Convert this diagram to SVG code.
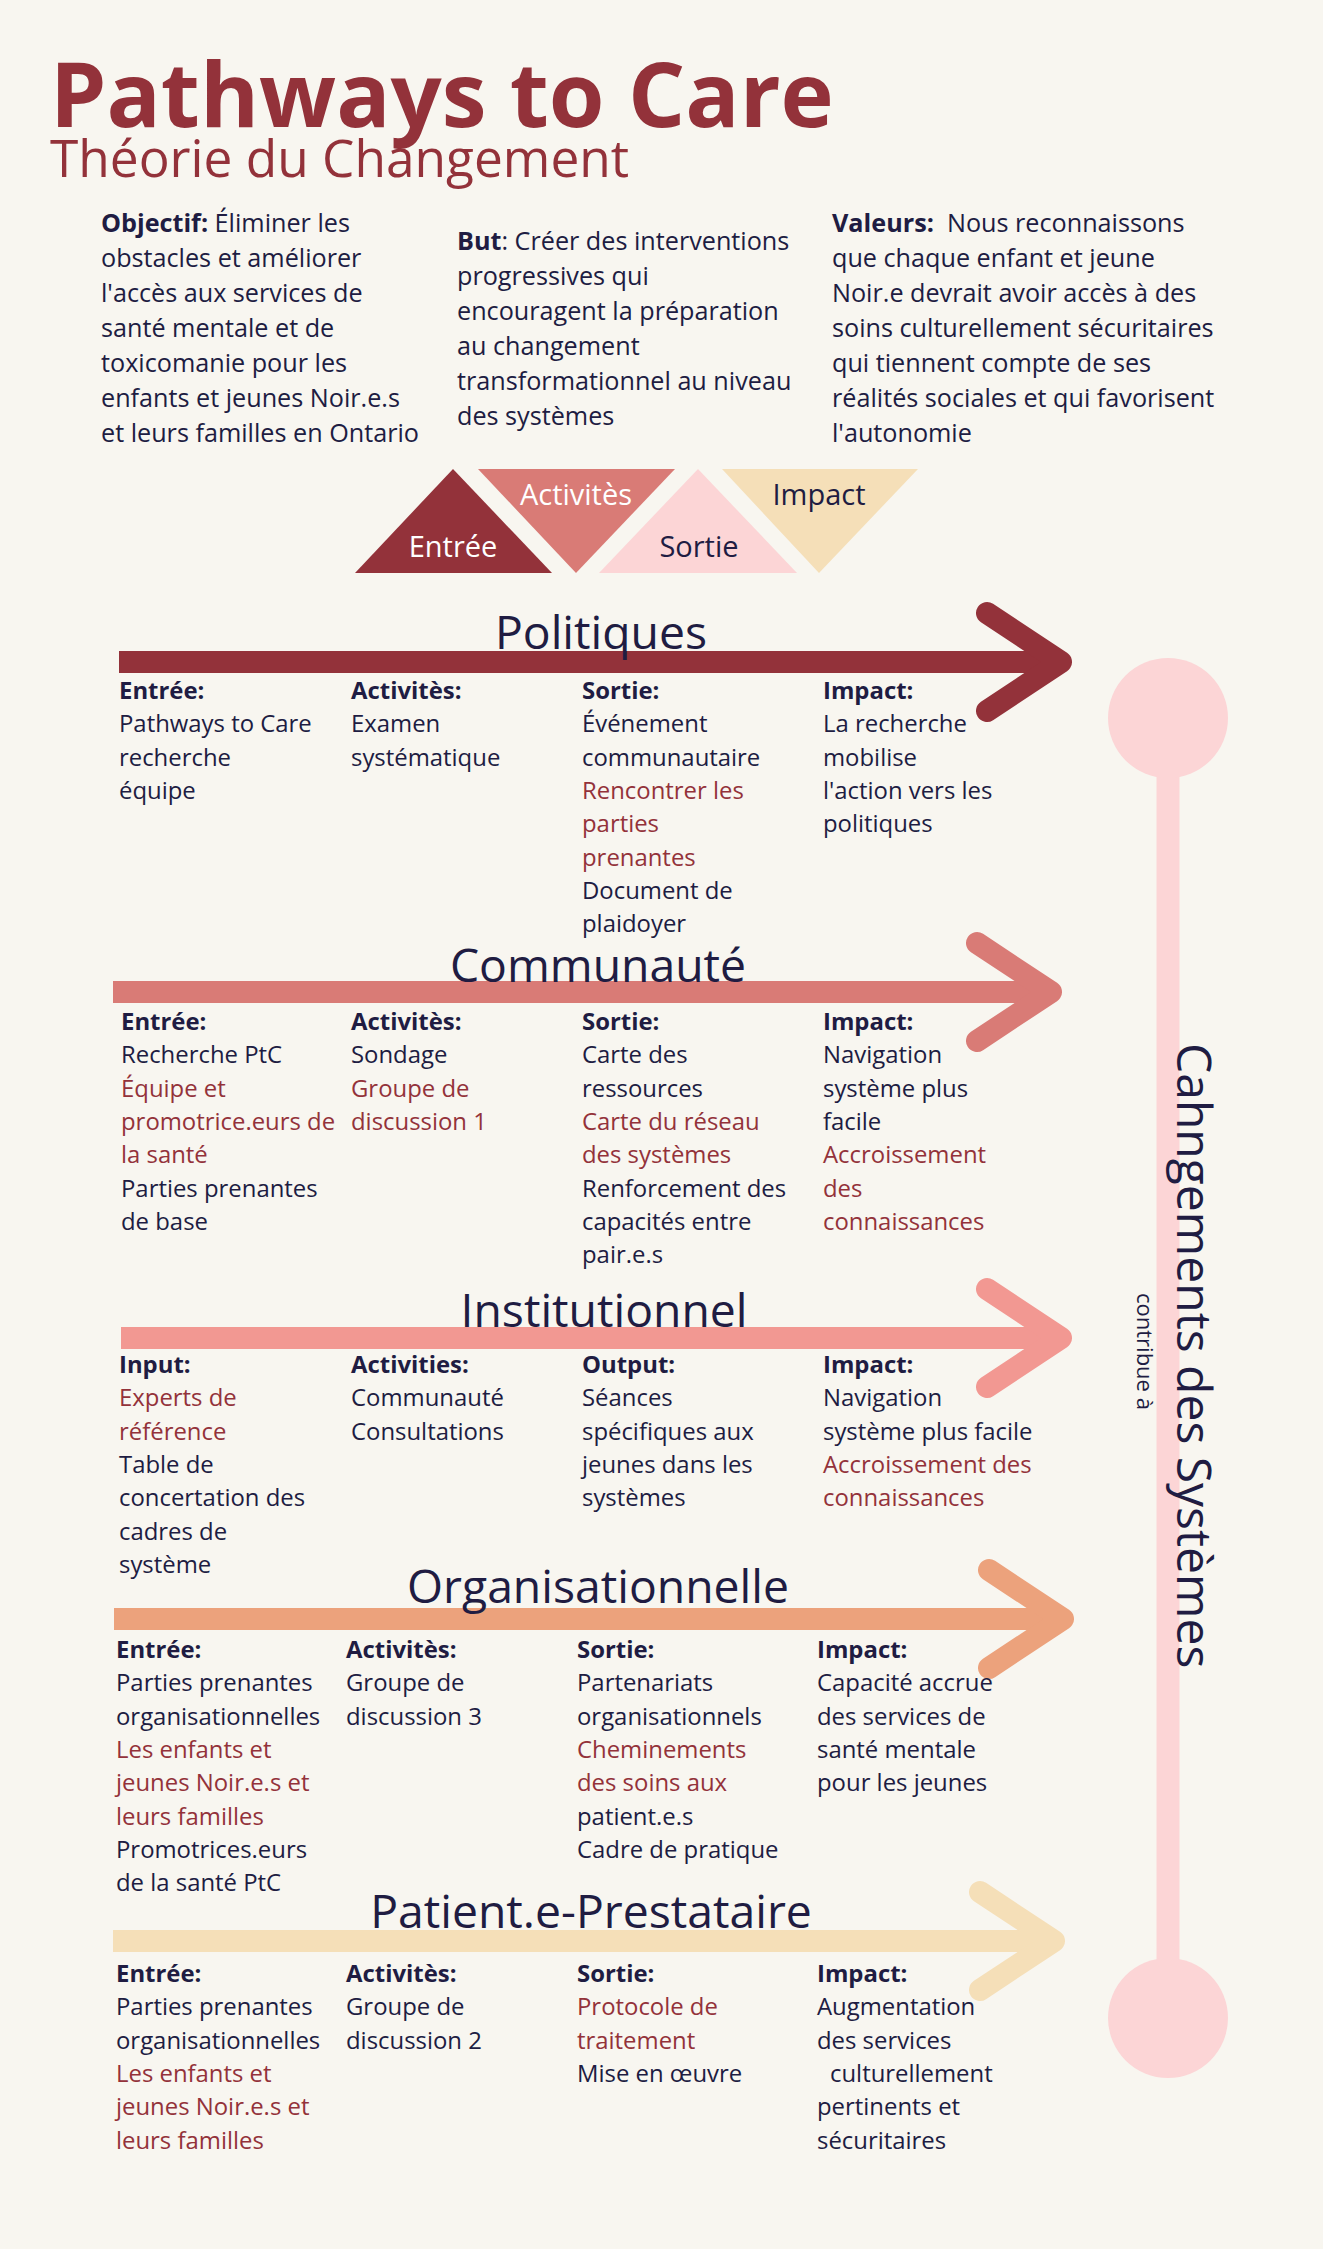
<svg xmlns="http://www.w3.org/2000/svg" width="1323" height="2249" viewBox="0 0 1323 2249">
<style>
text{font-family:"Open Sans","Liberation Sans",sans-serif;fill:#201c42}
.title{font-size:90px;font-weight:700;fill:#93323a}
.sub{font-size:51.4px;fill:#93323a}
.intro{font-size:25.2px}
.b{font-weight:700}
.tri{font-size:29px;text-anchor:middle}
.w{fill:#ffffff}
.sec{font-size:46.3px;text-anchor:middle}
.col{font-size:23.9px}
.r{fill:#93323a}
.bar{fill:none;stroke-width:22;stroke-linecap:butt}
.chev{fill:none;stroke-width:22;stroke-linecap:round;stroke-linejoin:round}
</style>
<rect width="1323" height="2249" fill="#f8f6f0"/>
<g id="header">
<text class="title" x="50" y="127">Pathways to Care</text>
<text class="sub" x="50" y="177">Théorie du Changement</text>
</g>
<g id="objectif">
<text class="intro" x="101" y="232"><tspan class="b">Objectif:</tspan> Éliminer les<tspan x="101" dy="35">obstacles et améliorer</tspan><tspan x="101" dy="35">l'accès aux services de</tspan><tspan x="101" dy="35">santé mentale et de</tspan><tspan x="101" dy="35">toxicomanie pour les</tspan><tspan x="101" dy="35">enfants et jeunes Noir.e.s</tspan><tspan x="101" dy="35">et leurs familles en Ontario</tspan></text>
</g>
<g id="but">
<text class="intro" x="457" y="250"><tspan class="b">But</tspan>: Créer des interventions<tspan x="457" dy="35">progressives qui</tspan><tspan x="457" dy="35">encouragent la préparation</tspan><tspan x="457" dy="35">au changement</tspan><tspan x="457" dy="35">transformationnel au niveau</tspan><tspan x="457" dy="35">des systèmes</tspan></text>
</g>
<g id="valeurs">
<text class="intro" x="832" y="232" xml:space="preserve"><tspan class="b">Valeurs:</tspan>  Nous reconnaissons<tspan x="832" dy="35">que chaque enfant et jeune</tspan><tspan x="832" dy="35">Noir.e devrait avoir accès à des</tspan><tspan x="832" dy="35">soins culturellement sécuritaires</tspan><tspan x="832" dy="35">qui tiennent compte de ses</tspan><tspan x="832" dy="35">réalités sociales et qui favorisent</tspan><tspan x="832" dy="35">l'autonomie</tspan></text>
</g>
<g id="legend-entree"><polygon points="453,469 355,573 552,573" fill="#93323a"/><text class="tri w" x="453" y="557">Entrée</text></g>
<g id="legend-activites"><polygon points="478,469 675,469 576,573" fill="#d97b76"/><text class="tri w" x="576" y="505">Activitès</text></g>
<g id="legend-sortie"><polygon points="698,469 599,573 797,573" fill="#fcd5d6"/><text class="tri" x="699" y="557">Sortie</text></g>
<g id="legend-impact"><polygon points="722,469 918,469 819,573" fill="#f5dfb8"/><text class="tri" x="819" y="505">Impact</text></g>
<g id="connectors">
<line x1="1168" y1="718" x2="1168" y2="2018" stroke="#fcd5d6" stroke-width="23"/>
<path class="bar" stroke="#93323a" d="M119,662H1061"/><polyline class="chev" stroke="#93323a" points="987,613 1061,662 987,711"/>
<path class="bar" stroke="#d97b76" d="M113,992H1051"/><polyline class="chev" stroke="#d97b76" points="977,943 1051,992 977,1041"/>
<path class="bar" stroke="#f29892" d="M121,1338H1061"/><polyline class="chev" stroke="#f29892" points="987,1289 1061,1338 987,1387"/>
<path class="bar" stroke="#eca27c" d="M114,1619H1063"/><polyline class="chev" stroke="#eca27c" points="989,1570 1063,1619 989,1668"/>
<path class="bar" stroke="#f5dfb8" d="M113,1941H1054"/><polyline class="chev" stroke="#f5dfb8" points="980,1892 1054,1941 980,1990"/>
</g>
<g id="systeme-top"><circle cx="1168" cy="718" r="60" fill="#fcd5d6"/></g>
<g id="systeme-bottom"><circle cx="1168" cy="2018" r="60" fill="#fcd5d6"/></g>
<g id="systemes-label">
<text transform="translate(1177,1043) rotate(90)" style="font-size:48px">Cahngements des Systèmes</text>
<text transform="translate(1137,1293) rotate(90)" style="font-size:22px">contribue à</text>
</g>
<g id="politiques">
<text class="sec" x="601" y="649">Politiques</text>
<text class="col" x="119" y="699"><tspan class="b">Entrée:</tspan><tspan x="119" dy="33.3">Pathways to Care</tspan><tspan x="119" dy="33.3">recherche</tspan><tspan x="119" dy="33.3">équipe</tspan></text>
<text class="col" x="351" y="699"><tspan class="b">Activitès:</tspan><tspan x="351" dy="33.3">Examen</tspan><tspan x="351" dy="33.3">systématique</tspan></text>
<text class="col" x="582" y="699"><tspan class="b">Sortie:</tspan><tspan x="582" dy="33.3">Événement</tspan><tspan x="582" dy="33.3">communautaire</tspan><tspan class="r" x="582" dy="33.3">Rencontrer les</tspan><tspan class="r" x="582" dy="33.3">parties</tspan><tspan class="r" x="582" dy="33.3">prenantes</tspan><tspan x="582" dy="33.3">Document de</tspan><tspan x="582" dy="33.3">plaidoyer</tspan></text>
<text class="col" x="823" y="699"><tspan class="b">Impact:</tspan><tspan x="823" dy="33.3">La recherche</tspan><tspan x="823" dy="33.3">mobilise</tspan><tspan x="823" dy="33.3">l'action vers les</tspan><tspan x="823" dy="33.3">politiques</tspan></text>
</g>
<g id="communaute">
<text class="sec" x="598" y="982">Communauté</text>
<text class="col" x="121" y="1030"><tspan class="b">Entrée:</tspan><tspan x="121" dy="33.3">Recherche PtC</tspan><tspan class="r" x="121" dy="33.3">Équipe et</tspan><tspan class="r" x="121" dy="33.3">promotrice.eurs de</tspan><tspan class="r" x="121" dy="33.3">la santé</tspan><tspan x="121" dy="33.3">Parties prenantes</tspan><tspan x="121" dy="33.3">de base</tspan></text>
<text class="col" x="351" y="1030"><tspan class="b">Activitès:</tspan><tspan x="351" dy="33.3">Sondage</tspan><tspan class="r" x="351" dy="33.3">Groupe de</tspan><tspan class="r" x="351" dy="33.3">discussion 1</tspan></text>
<text class="col" x="582" y="1030"><tspan class="b">Sortie:</tspan><tspan x="582" dy="33.3">Carte des</tspan><tspan x="582" dy="33.3">ressources</tspan><tspan class="r" x="582" dy="33.3">Carte du réseau</tspan><tspan class="r" x="582" dy="33.3">des systèmes</tspan><tspan x="582" dy="33.3">Renforcement des</tspan><tspan x="582" dy="33.3">capacités entre</tspan><tspan x="582" dy="33.3">pair.e.s</tspan></text>
<text class="col" x="823" y="1030"><tspan class="b">Impact:</tspan><tspan x="823" dy="33.3">Navigation</tspan><tspan x="823" dy="33.3">système plus</tspan><tspan x="823" dy="33.3">facile</tspan><tspan class="r" x="823" dy="33.3">Accroissement</tspan><tspan class="r" x="823" dy="33.3">des</tspan><tspan class="r" x="823" dy="33.3">connaissances</tspan></text>
</g>
<g id="institutionnel">
<text class="sec" x="604" y="1327">Institutionnel</text>
<text class="col" x="119" y="1373"><tspan class="b">Input:</tspan><tspan class="r" x="119" dy="33.3">Experts de</tspan><tspan class="r" x="119" dy="33.3">référence</tspan><tspan x="119" dy="33.3">Table de</tspan><tspan x="119" dy="33.3">concertation des</tspan><tspan x="119" dy="33.3">cadres de</tspan><tspan x="119" dy="33.3">système</tspan></text>
<text class="col" x="351" y="1373"><tspan class="b">Activities:</tspan><tspan x="351" dy="33.3">Communauté</tspan><tspan x="351" dy="33.3">Consultations</tspan></text>
<text class="col" x="582" y="1373"><tspan class="b">Output:</tspan><tspan x="582" dy="33.3">Séances</tspan><tspan x="582" dy="33.3">spécifiques aux</tspan><tspan x="582" dy="33.3">jeunes dans les</tspan><tspan x="582" dy="33.3">systèmes</tspan></text>
<text class="col" x="823" y="1373"><tspan class="b">Impact:</tspan><tspan x="823" dy="33.3">Navigation</tspan><tspan x="823" dy="33.3">système plus facile</tspan><tspan class="r" x="823" dy="33.3">Accroissement des</tspan><tspan class="r" x="823" dy="33.3">connaissances</tspan></text>
</g>
<g id="organisationnelle">
<text class="sec" x="598" y="1603">Organisationnelle</text>
<text class="col" x="116" y="1658"><tspan class="b">Entrée:</tspan><tspan x="116" dy="33.3">Parties prenantes</tspan><tspan x="116" dy="33.3">organisationnelles</tspan><tspan class="r" x="116" dy="33.3">Les enfants et</tspan><tspan class="r" x="116" dy="33.3">jeunes Noir.e.s et</tspan><tspan class="r" x="116" dy="33.3">leurs familles</tspan><tspan x="116" dy="33.3">Promotrices.eurs</tspan><tspan x="116" dy="33.3">de la santé PtC</tspan></text>
<text class="col" x="346" y="1658"><tspan class="b">Activitès:</tspan><tspan x="346" dy="33.3">Groupe de</tspan><tspan x="346" dy="33.3">discussion 3</tspan></text>
<text class="col" x="577" y="1658"><tspan class="b">Sortie:</tspan><tspan x="577" dy="33.3">Partenariats</tspan><tspan x="577" dy="33.3">organisationnels</tspan><tspan class="r" x="577" dy="33.3">Cheminements</tspan><tspan class="r" x="577" dy="33.3">des soins aux</tspan><tspan x="577" dy="33.3">patient.e.s</tspan><tspan x="577" dy="33.3">Cadre de pratique</tspan></text>
<text class="col" x="817" y="1658"><tspan class="b">Impact:</tspan><tspan x="817" dy="33.3">Capacité accrue</tspan><tspan x="817" dy="33.3">des services de</tspan><tspan x="817" dy="33.3">santé mentale</tspan><tspan x="817" dy="33.3">pour les jeunes</tspan></text>
</g>
<g id="patient-prestataire">
<text class="sec" x="591" y="1928">Patient.e-Prestataire</text>
<text class="col" x="116" y="1982"><tspan class="b">Entrée:</tspan><tspan x="116" dy="33.3">Parties prenantes</tspan><tspan x="116" dy="33.3">organisationnelles</tspan><tspan class="r" x="116" dy="33.3">Les enfants et</tspan><tspan class="r" x="116" dy="33.3">jeunes Noir.e.s et</tspan><tspan class="r" x="116" dy="33.3">leurs familles</tspan></text>
<text class="col" x="346" y="1982"><tspan class="b">Activitès:</tspan><tspan x="346" dy="33.3">Groupe de</tspan><tspan x="346" dy="33.3">discussion 2</tspan></text>
<text class="col" x="577" y="1982"><tspan class="b">Sortie:</tspan><tspan class="r" x="577" dy="33.3">Protocole de</tspan><tspan class="r" x="577" dy="33.3">traitement</tspan><tspan x="577" dy="33.3">Mise en œuvre</tspan></text>
<text class="col" x="817" y="1982"><tspan class="b">Impact:</tspan><tspan x="817" dy="33.3">Augmentation</tspan><tspan x="817" dy="33.3">des services</tspan><tspan x="830" dy="33.3">culturellement</tspan><tspan x="817" dy="33.3">pertinents et</tspan><tspan x="817" dy="33.3">sécuritaires</tspan></text>
</g>
</svg>
